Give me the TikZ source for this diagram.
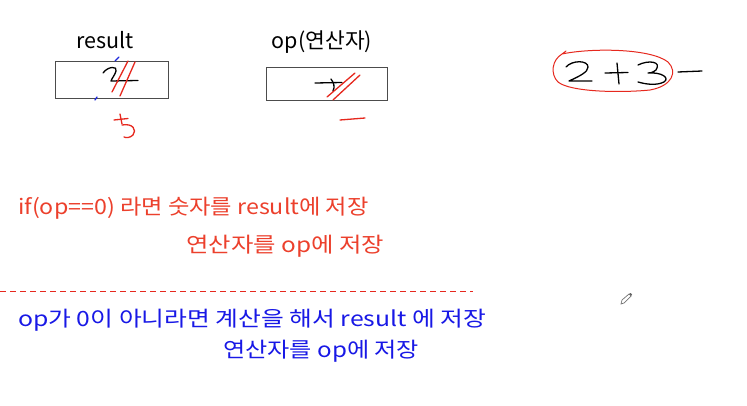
\documentclass[tikz,border=0pt]{standalone}
\usepackage{fontspec}
\setmainfont{Noto Sans CJK KR}
\definecolor{txtred}{RGB}{236,64,44}
\definecolor{penred}{RGB}{230,40,30}
\definecolor{txtblue}{RGB}{24,24,230}
\definecolor{penblue}{RGB}{30,40,220}
\begin{document}
\begin{tikzpicture}[x=1pt,y=-1pt,
  lbl/.style={inner sep=0pt,font=\fontsize{21.5}{24}\selectfont},
  body/.style={inner sep=0pt,anchor=west,font=\fontsize{21}{24}\selectfont},
  cell/.style={draw=black!70,line width=0.8pt},
  ink/.style={line width=1.3pt,line cap=round,line join=round},
  redink/.style={ink,draw=penred},
  blackink/.style={ink,draw=black},
  blueink/.style={ink,draw=penblue}]
\useasboundingbox[fill=white] (0,0) rectangle (747,406);
% labels and boxes
\node[lbl] (lres) at (105,40) {result};
\node[lbl] (lop) at (322,42) {op(연산자)};
\draw[cell] (55,61) rectangle (168,98);
\draw[cell] (266,67) rectangle (387,100);
% handwriting in result box
\draw[blackink] (103,73) .. controls (108,66) and (118,66) .. (116,71) .. controls (115,75) and (112,78) .. (111,81) -- (138,80.5);
\draw[redink] (112,92) -- (128,61);
\draw[redink] (120,96) -- (135,62);
\draw[blueink] (115,61) -- (119,57);
\draw[blueink] (95,100) -- (97,97);
% red 5
\draw[redink] (120,114) -- (122,124);
\draw[redink] (114,120) -- (128,118.5);
\draw[redink] (122,125) .. controls (133,123) and (137,130) .. (133,135) .. controls (130,138) and (126,138) .. (124,137);
% handwriting in op box
\draw[blackink] (315,83) -- (342,82.5);
\draw[blackink] (331,79) .. controls (334,83) and (335,87) .. (333,91);
\draw[redink] (327,97) -- (355,73);
\draw[redink] (333,100) -- (360,75);
\draw[redink] (340,120) -- (365,118);
% right side 2+3-
\draw[redink,line width=1pt] (562,54) .. controls (590,48) and (650,48) .. (668,62) .. controls (678,72) and (672,86) .. (650,90) .. controls (620,93) and (570,92) .. (558,82) .. controls (550,74) and (552,60) .. (562,54) -- (566,51);
\draw[blackink] (566,67) .. controls (572,60) and (588,60) .. (588,67) .. controls (588,72) and (580,76) .. (569,81) -- (592,81);
\draw[blackink] (605,73) -- (628,72.5);
\draw[blackink] (617,63) -- (619,84);
\draw[blackink] (638,65) .. controls (648,60) and (662,61) .. (656,70) .. controls (652,73) and (650,73) .. (648,73) .. controls (662,72) and (670,78) .. (664,82) .. controls (656,86) and (645,84) .. (638,82);
\draw[blackink] (678,72) -- (702,71);
% pencil cursor
\draw[black!55,line width=0.7pt,fill=white] (621,304) -- (622,300) -- (629,294) -- (631,296) -- (624,303) -- cycle;
\fill[black!60] (629,294) -- (631,296) -- (632,294.5) -- (630.5,293) -- cycle;
% red text
\node[body,text=txtred] (t1) at (18,208) {\scalebox{1.106}[1]{if(op==0) 라면 숫자를 result에 저장}};
\node[body,text=txtred] (t2) at (186,246) {\scalebox{1.16}[1]{연산자를 op에 저장}};
\coordinate (dl) at (0,291.5);
\coordinate (dr) at (473,291.5);
\draw[penred,line width=1.1pt,dash pattern=on 6pt off 4pt] (dl) -- (dr);
% blue text
\node[body,text=txtblue] (t3) at (18,320) {\scalebox{1.18}[1]{op가 0이 아니라면 계산을 해서 result 에 저장}};
\node[body,text=txtblue] (t4) at (223,351) {\scalebox{1.15}[1]{연산자를 op에 저장}};
\end{tikzpicture}
\end{document}
